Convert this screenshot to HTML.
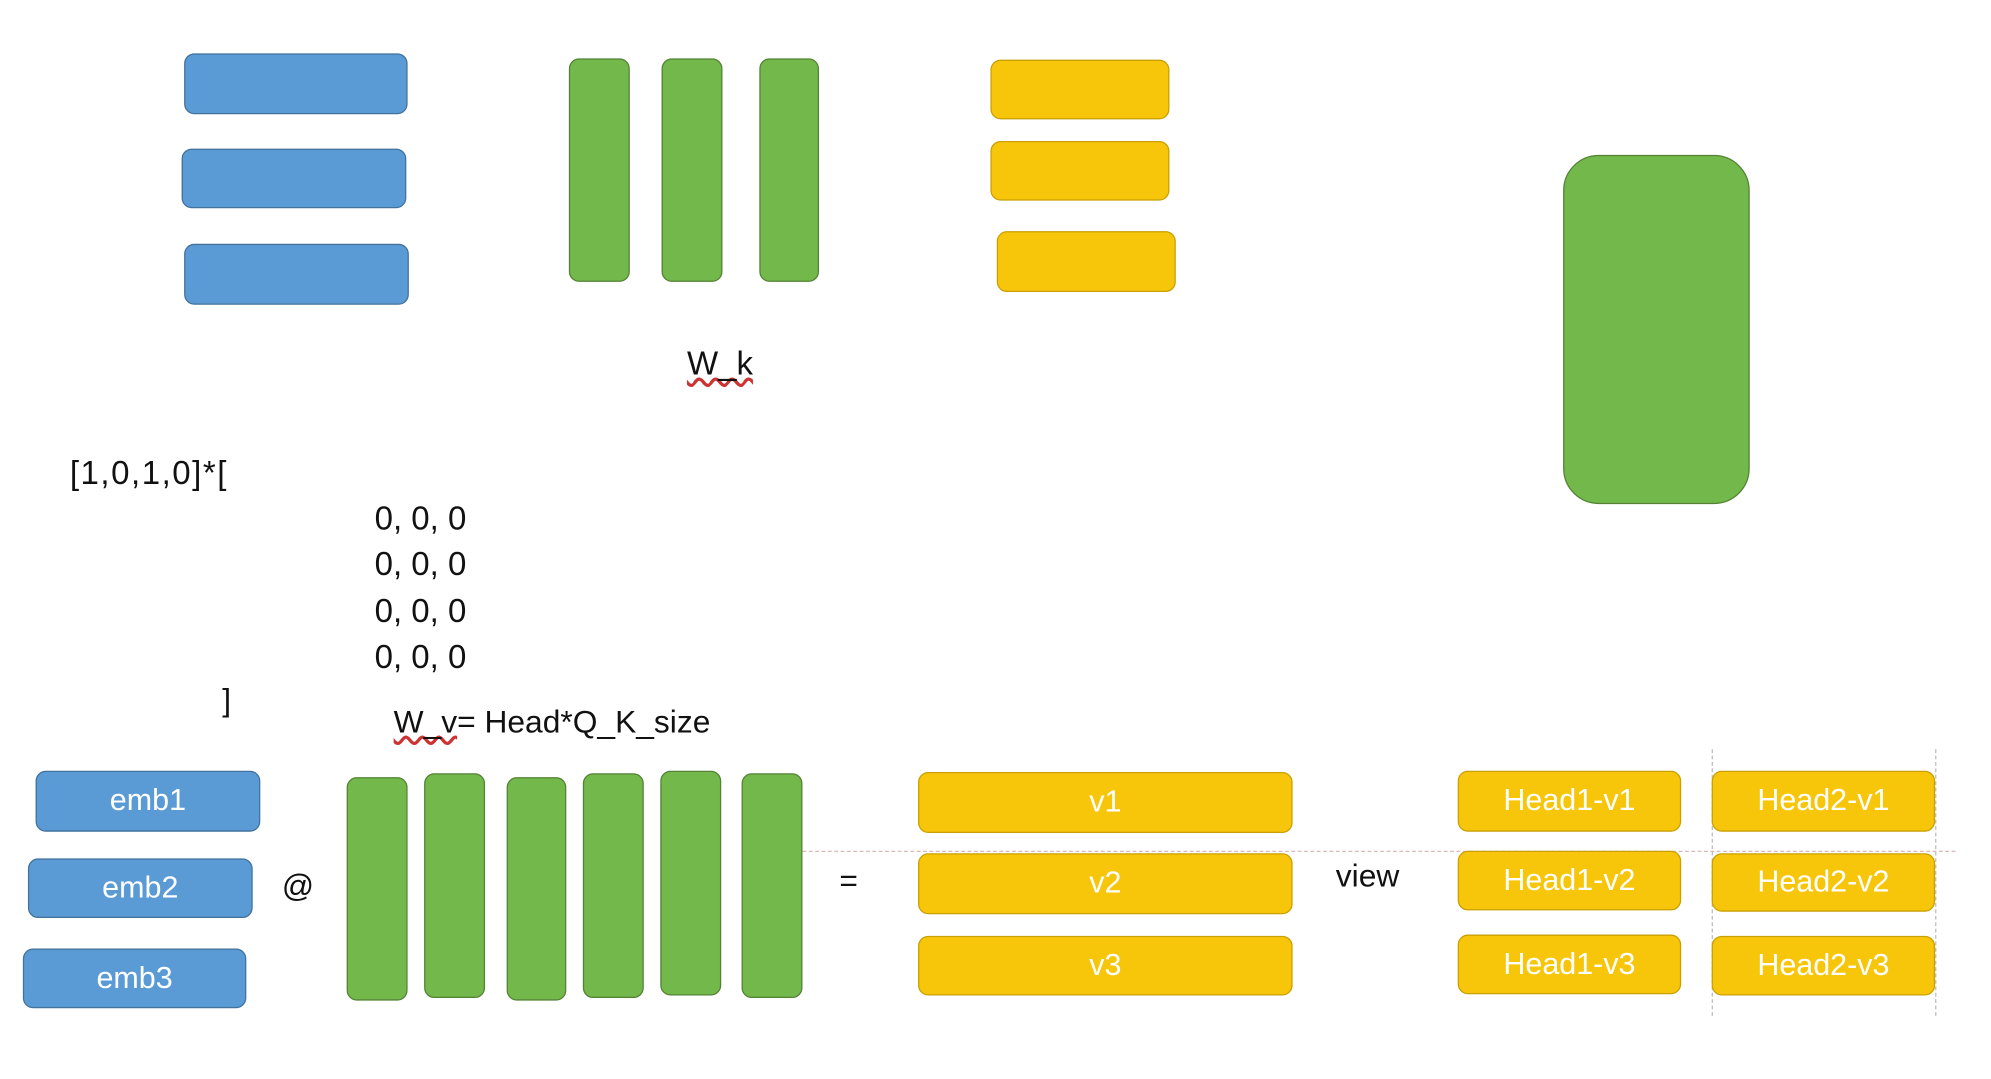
<!DOCTYPE html>
<html><head><meta charset="utf-8"><style>
html,body{margin:0;padding:0;background:#fff;width:1991px;height:1079px;overflow:hidden}
#s{position:absolute;left:0;top:0;width:1568px;height:850px;transform:scale(1.26977);transform-origin:0 0;font-family:"Liberation Sans",sans-serif}
.b{position:absolute;box-sizing:border-box;border-radius:8px;color:#fff;display:flex;align-items:center;justify-content:center;font-size:24px}
.bl{background:#5b9bd5;border:1.5px solid #41719c}
.gr{background:#72b84a;border:1.5px solid #548235}
.ye{background:#f7c60a;border:1.5px solid #c9a000}
.t{position:absolute;color:#111;font-size:25px;white-space:nowrap}
.u{text-decoration:underline;text-decoration-color:#c33;text-decoration-style:wavy}
</style></head><body>
<div id="s">
<div class="b bl" style="left:145px;top:42px;width:176px;height:48px"></div>
<div class="b bl" style="left:143px;top:117px;width:177px;height:47px"></div>
<div class="b bl" style="left:145px;top:192px;width:177px;height:48px"></div>
<div class="b gr" style="left:448px;top:46px;width:48px;height:176px"></div>
<div class="b gr" style="left:521px;top:46px;width:48px;height:176px"></div>
<div class="b gr" style="left:598px;top:46px;width:47px;height:176px"></div>
<div class="b ye" style="left:780px;top:47px;width:141px;height:47px"></div>
<div class="b ye" style="left:780px;top:111px;width:141px;height:47px"></div>
<div class="b ye" style="left:785px;top:182px;width:141px;height:48px"></div>
<div class="t u" style="left:541px;top:271px;font-size:26px">W_k</div>
<div class="b gr" style="left:1231px;top:122px;width:147px;height:275px;border-radius:28px"></div>
<div class="t" style="left:55px;top:357px;font-size:26px;letter-spacing:1.2px">[1,0,1,0]*[</div>
<div class="t" style="left:295px;top:393px;font-size:26px">0, 0, 0</div>
<div class="t" style="left:295px;top:429px;font-size:26px">0, 0, 0</div>
<div class="t" style="left:295px;top:466px;font-size:26px">0, 0, 0</div>
<div class="t" style="left:295px;top:502px;font-size:26px">0, 0, 0</div>
<div class="t" style="left:175px;top:538px">]</div>
<div class="t" style="left:310px;top:555px"><span class="u">W_v</span>= Head*Q_K_size</div>
<div class="b bl" style="left:28px;top:607px;width:177px;height:48px">emb1</div>
<div class="b bl" style="left:22px;top:676px;width:177px;height:47px">emb2</div>
<div class="b bl" style="left:18px;top:747px;width:176px;height:47px">emb3</div>
<div class="t" style="left:222px;top:684px">@</div>
<div class="b gr" style="left:273px;top:612px;width:48px;height:176px"></div>
<div class="b gr" style="left:334px;top:609px;width:48px;height:177px"></div>
<div class="b gr" style="left:399px;top:612px;width:47px;height:176px"></div>
<div class="b gr" style="left:459px;top:609px;width:48px;height:177px"></div>
<div class="b gr" style="left:520px;top:607px;width:48px;height:177px"></div>
<div class="b gr" style="left:584px;top:609px;width:48px;height:177px"></div>
<div style="position:absolute;left:632px;top:670px;width:908px;border-top:1px dashed #d9b8b8"></div>
<div style="position:absolute;left:1348px;top:590px;height:210px;border-left:1px dashed #bbb"></div>
<div style="position:absolute;left:1524px;top:590px;height:210px;border-left:1px dashed #bbb"></div>
<div class="t" style="left:661px;top:680px">=</div>
<div class="b ye" style="left:723px;top:608px;width:295px;height:48px">v1</div>
<div class="b ye" style="left:723px;top:672px;width:295px;height:48px">v2</div>
<div class="b ye" style="left:723px;top:737px;width:295px;height:47px">v3</div>
<div class="t" style="left:1052px;top:676px">view</div>
<div class="b ye" style="left:1148px;top:607px;width:176px;height:48px">Head1-v1</div>
<div class="b ye" style="left:1148px;top:670px;width:176px;height:47px">Head1-v2</div>
<div class="b ye" style="left:1148px;top:736px;width:176px;height:47px">Head1-v3</div>
<div class="b ye" style="left:1348px;top:607px;width:176px;height:48px">Head2-v1</div>
<div class="b ye" style="left:1348px;top:672px;width:176px;height:46px">Head2-v2</div>
<div class="b ye" style="left:1348px;top:737px;width:176px;height:47px">Head2-v3</div>
</div>
</body></html>
